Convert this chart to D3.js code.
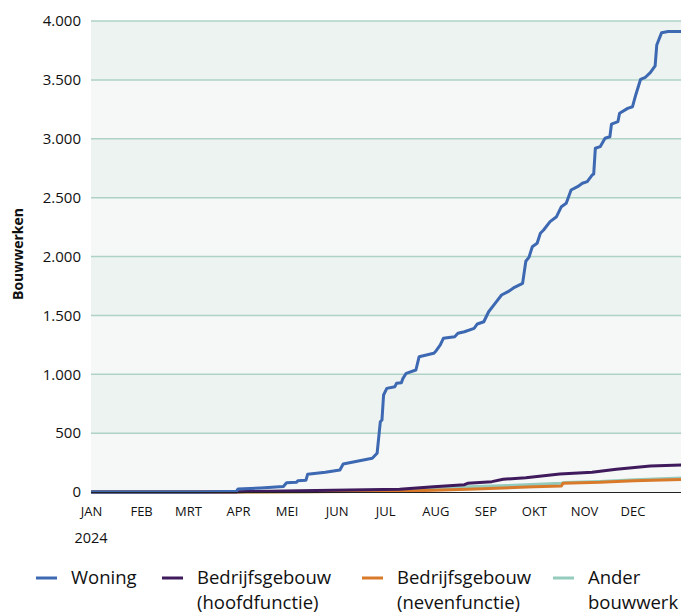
<!DOCTYPE html>
<html>
<head>
<meta charset="utf-8">
<script src="https://cdn.jsdelivr.net/npm/d3@7"></script>
<style>
  body { margin: 0; background: #fff; }
  svg text { font-family: 'Open Sans', sans-serif; fill: #111; }
</style>
</head>
<body>
<svg id="chart" width="681" height="615"></svg>
<script>
// cumulatieve aantallen bouwwerken per datum (2024)
var woningDates = ['2024-01-01','2024-03-10','2024-03-31','2024-04-01','2024-04-15','2024-04-29','2024-05-01','2024-05-07','2024-05-08','2024-05-13','2024-05-14','2024-05-25','2024-06-03','2024-06-05','2024-06-23','2024-06-26','2024-06-28','2024-06-29','2024-06-30','2024-07-02','2024-07-07','2024-07-08','2024-07-11','2024-07-12','2024-07-14','2024-07-20','2024-07-22','2024-07-31','2024-08-01','2024-08-04','2024-08-06','2024-08-13','2024-08-15','2024-08-19','2024-08-25','2024-08-27','2024-08-31','2024-09-03','2024-09-07','2024-09-11','2024-09-15','2024-09-19','2024-09-24','2024-09-26','2024-09-28','2024-09-30','2024-10-03','2024-10-05','2024-10-07','2024-10-11','2024-10-15','2024-10-18','2024-10-21','2024-10-24','2024-10-28','2024-10-31','2024-11-03','2024-11-06','2024-11-07','2024-11-08','2024-11-11','2024-11-14','2024-11-17','2024-11-18','2024-11-22','2024-11-23','2024-11-28','2024-12-01','2024-12-03','2024-12-06','2024-12-09','2024-12-12','2024-12-15','2024-12-16','2024-12-19','2024-12-23','2024-12-31'];
var woningValues = [0,0,6,26,34,46,79,82,96,100,150,167,187,238,286,329,597,611,824,880,894,923,928,965,1008,1036,1149,1178,1191,1248,1305,1319,1348,1361,1390,1427,1446,1531,1602,1673,1701,1738,1772,1960,1995,2083,2112,2197,2225,2296,2338,2423,2452,2565,2593,2622,2636,2692,2700,2919,2933,3004,3017,3125,3146,3216,3258,3272,3372,3505,3522,3561,3618,3796,3901,3910,3910];

var hoofdDates = ['2024-01-01','2024-03-31','2024-04-01','2024-05-09','2024-07-10','2024-07-31','2024-08-19','2024-08-21','2024-09-05','2024-09-12','2024-09-26','2024-10-17','2024-11-06','2024-11-21','2024-12-12','2024-12-31'];
var hoofdValues = [0,0,3,11,23,45,62,74,88,108,121,153,167,193,221,229];

var nevenDates = ['2024-01-01','2024-04-01','2024-05-15','2024-07-10','2024-08-21','2024-10-01','2024-10-18','2024-10-19','2024-11-11','2024-12-02','2024-12-31'];
var nevenValues = [0,0,2,6,23,45,51,74,82,96,106];

var anderDates = ['2024-01-01','2024-04-01','2024-05-15','2024-07-10','2024-08-01','2024-08-21','2024-09-15','2024-10-18','2024-10-20','2024-11-11','2024-12-02','2024-12-31'];
var anderValues = [0,0,3,15,30,45,55,74,80,90,105,118];

var seriesNames = ['Woning', 'Bedrijfsgebouw\n(hoofdfunctie)', 'Bedrijfsgebouw\n(nevenfunctie)', 'Ander\nbouwwerk'];
var seriesColors = ['#3d68b2', '#3f1a5c', '#d97a2b', '#94cbbd'];

var monthLabels = ['JAN','FEB','MRT','APR','MEI','JUN','JUL','AUG','SEP','OKT','NOV','DEC'];
var yTicks = [0, 500, 1000, 1500, 2000, 2500, 3000, 3500, 4000];

var parse = d3.timeParse('%Y-%m-%d');
var nl = d3.formatLocale({decimal: ',', thousands: '.', grouping: [3], currency: ['€', '']});
var fmt = nl.format(',d');

var svg = d3.select('#chart'),
    plotLeft = 91, plotRight = 681, plotTop = 21, plotBottom = 492;

var x = d3.scaleTime()
          .domain([parse('2024-01-01'), parse('2024-12-31')])
          .range([plotLeft, plotRight]);
var y = d3.scaleLinear().domain([0, 4000]).range([plotBottom, plotTop]);

// achtergrondbanden
var bands = d3.range(0, 4000, 500);
svg.append('g').selectAll('rect')
   .data(bands)
   .enter().append('rect')
   .attr('x', plotLeft)
   .attr('width', plotRight - plotLeft)
   .attr('y', function(d) { return y(d + 500); })
   .attr('height', function(d) { return y(d) - y(d + 500); })
   .attr('fill', function(d, i) { return i % 2 ? '#edf3f1' : '#f6f8f7'; });

// rasterlijnen
svg.append('g').selectAll('line')
   .data(yTicks.slice(1))
   .enter().append('line')
   .attr('x1', plotLeft).attr('x2', plotRight)
   .attr('y1', function(d) { return y(d); })
   .attr('y2', function(d) { return y(d); })
   .attr('stroke', '#aed3c6')
   .attr('stroke-width', 1.5);

var yAxis = svg.append('g')
   .attr('transform', 'translate(' + plotLeft + ',0)')
   .call(d3.axisLeft(y).tickValues(yTicks).tickFormat(fmt).tickSize(0).tickPadding(10));
yAxis.select('.domain').remove();
yAxis.selectAll('text').style('font-size', '15px');

var months = d3.timeMonths(parse('2024-01-01'), parse('2024-12-31'));
var xAxis = svg.append('g')
   .attr('transform', 'translate(0,' + plotBottom + ')')
   .call(d3.axisBottom(x).tickValues(months).tickSize(0).tickPadding(15)
           .tickFormat(function(d, i) { return monthLabels[i]; }));
xAxis.select('.domain').remove();
xAxis.selectAll('text').style('font-size', '13px');

svg.append('text')
   .attr('x', x(parse('2024-01-01')))
   .attr('y', 543)
   .attr('text-anchor', 'middle')
   .style('font-size', '14.5px')
   .text('2024');

svg.append('text')
   .attr('transform', 'translate(23,254) rotate(-90)')
   .attr('text-anchor', 'middle')
   .style('font-size', '14px')
   .style('font-weight', 'bold')
   .text('Bouwwerken');

var series = [
  {dates: woningDates, values: woningValues},
  {dates: hoofdDates, values: hoofdValues},
  {dates: nevenDates, values: nevenValues},
  {dates: anderDates, values: anderValues}
];

var line = d3.line()
             .x(function(d) { return x(d[0]); })
             .y(function(d) { return y(d[1]); });

// woning bovenop tekenen
[3, 2, 1, 0].forEach(function(i) {
  var pts = series[i].dates.map(function(d, j) { return [parse(d), series[i].values[j]]; });
  svg.append('path')
     .datum(pts)
     .attr('fill', 'none')
     .attr('stroke', seriesColors[i])
     .attr('stroke-width', 3)
     .attr('stroke-linejoin', 'round')
     .attr('d', line);
});

// x-as lijn
svg.append('line')
   .attr('x1', plotLeft).attr('x2', plotRight)
   .attr('y1', plotBottom + 0.5).attr('y2', plotBottom + 0.5)
   .attr('stroke', '#222')
   .attr('stroke-width', 1);

// legenda
var legendX = [36, 162, 362, 553];
var legend = svg.append('g').selectAll('g')
   .data(seriesNames)
   .enter().append('g')
   .attr('transform', function(d, i) { return 'translate(' + legendX[i] + ',0)'; });

legend.append('line')
   .attr('x1', 0).attr('x2', 21)
   .attr('y1', 578).attr('y2', 578)
   .attr('stroke', function(d, i) { return seriesColors[i]; })
   .attr('stroke-width', 3);

legend.append('text')
   .attr('x', 35)
   .attr('y', 584)
   .style('font-size', '18.5px')
   .selectAll('tspan')
   .data(function(d) { return d.split('\n'); })
   .enter().append('tspan')
   .attr('x', 35)
   .attr('dy', function(d, i) { return i ? 25 : 0; })
   .text(function(d) { return d; });
</script>
</body>
</html>
